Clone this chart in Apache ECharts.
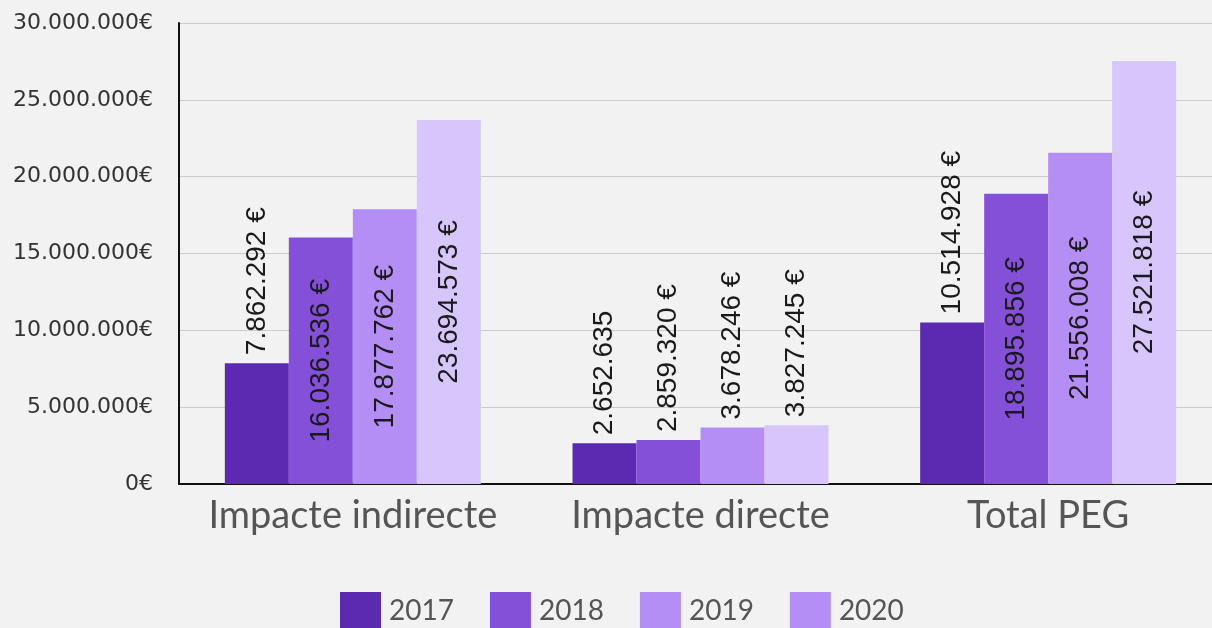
<!DOCTYPE html>
<html>
<head>
<meta charset="utf-8">
<script src="https://cdn.jsdelivr.net/npm/echarts@6/dist/echarts.min.js"></script>
<style>
    html, body { margin: 0; padding: 0; background: #f2f2f2; }
    #main { width: 1212px; height: 628px; }
</style>
</head>
<body>
<div id="main"></div>
<script>
// Categories and values
const categories = ["Impacte indirecte", "Impacte directe", "Total PEG"];
const years = ["2017", "2018", "2019", "2020"];

const values2017 = [7862292, 2652635, 10514928];
const values2018 = [16036536, 2859320, 18895856];
const values2019 = [17877762, 3678246, 21556008];
const values2020 = [23694573, 3827245, 27521818];

// Label texts as printed on the chart
const labels2017 = ["7.862.292 €", "2.652.635", "10.514.928 €"];
const labels2018 = ["16.036.536 €", "2.859.320 €", "18.895.856 €"];
const labels2019 = ["17.877.762 €", "3.678.246 €", "21.556.008 €"];
const labels2020 = ["23.694.573 €", "3.827.245 €", "27.521.818 €"];

const yTicks = [0, 5000000, 10000000, 15000000, 20000000, 25000000, 30000000];

const barColors = ["#5c2ab0", "#8350d7", "#b48ef5", "#d7c6fb"];
const legendColors = ["#5c2ab0", "#8350d7", "#b48ef5", "#b48ef5"];

const chart = echarts.init(document.getElementById("main"));

// Dots as thousands separators
const fmt = (v) => String(v).replace(/\B(?=(\d{3})+(?!\d))/g, ".");

// Label goes inside the bar when tall enough, otherwise on top
const makeData = (vals, labs) => vals.map((v, i) => {
    const inside = v > 12000000;
    return {
        value: v,
        label: inside
            ? { position: "inside", align: "center", verticalAlign: "middle", formatter: labs[i] }
            : { position: "top", distance: 8, align: "left", verticalAlign: "middle", formatter: labs[i] },
    };
});

const allValues = [values2017, values2018, values2019, values2020];
const allLabels = [labels2017, labels2018, labels2019, labels2020];

const series = years.map((y, k) => ({
    name: y,
    type: "bar",
    barWidth: 64,
    barGap: "0%",
    itemStyle: { color: barColors[k] },
    label: {
        show: true,
        rotate: 90,
        color: "#1a1a1a",
        fontFamily: "Liberation Sans",
        fontSize: 28,
    },
    data: makeData(allValues[k], allLabels[k]),
}));

const options = {
    backgroundColor: "#f2f2f2",
    animation: false,
    grid: {
        left: 179,
        width: 1043,
        top: 23,
        bottom: 144,
        outerBoundsMode: "none",
    },
    legend: {
        bottom: -6,
        left: 335,
        itemWidth: 41,
        itemHeight: 37,
        itemGap: 36,
        icon: "rect",
        data: years.map((y, k) => ({ name: y, itemStyle: { color: legendColors[k] } })),
        textStyle: {
            fontFamily: "Lato",
            fontSize: 28,
            color: "#555",
            padding: [0, 0, 0, 3],
        },
    },
    xAxis: {
        type: "category",
        data: categories,
        axisTick: { show: false },
        axisLine: { lineStyle: { color: "#111", width: 2 } },
        axisLabel: {
            interval: 0,
            fontFamily: "Lato",
            fontSize: 38,
            color: "#555",
            margin: 13,
        },
    },
    yAxis: {
        type: "value",
        min: yTicks[0],
        max: yTicks[yTicks.length - 1],
        interval: 5000000,
        axisLine: { show: true, lineStyle: { color: "#111", width: 2 } },
        axisTick: { show: false },
        splitLine: { lineStyle: { color: "#cccccc", width: 1 } },
        axisLabel: {
            fontFamily: "DejaVu Sans",
            fontSize: 22,
            color: "#333",
            margin: 26,
            formatter: (v) => fmt(v) + "€",
        },
    },
    series: series,
};

chart.setOption(options);
</script>
</body>
</html>
